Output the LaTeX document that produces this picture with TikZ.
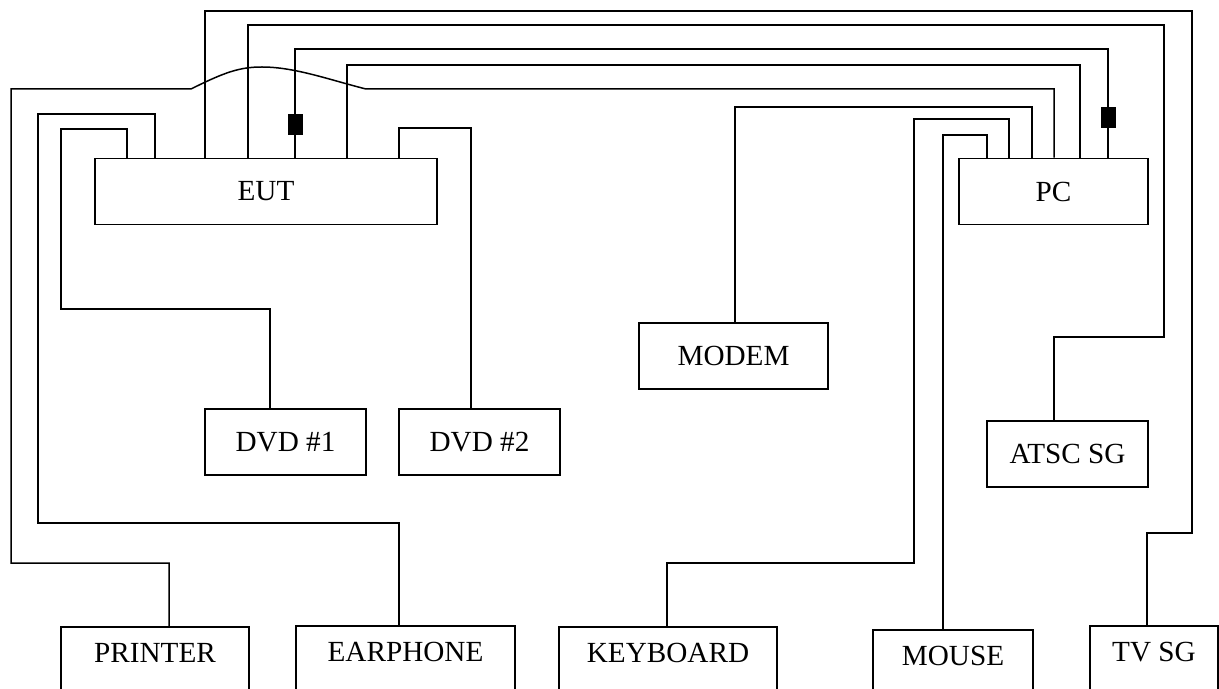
\documentclass[tikz,border=0pt]{standalone}
\usepackage{fontspec}
\setmainfont{Liberation Serif}
\begin{document}
\begin{tikzpicture}[x=0.5pt,y=-0.5pt,
        wire/.style={line width=0.75pt},
        unit/.style={draw, line width=0.75pt, inner sep=0pt, minimum height=33pt, font=\fontsize{14.6}{17}\selectfont},
        floorunit/.style={unit, anchor=north, minimum height=0pt, text height=18pt, text depth=19pt},
        ferrite/.style={fill=black, inner sep=0pt, minimum width=7.5pt, minimum height=10.5pt}]
        \useasboundingbox (0,0) rectangle (1219,689);
        \clip (0,0) rectangle (1219,689);
        % equipment
        \node[unit, minimum width=171pt] (eut) at (266,191.5) {EUT};
        \node[unit, minimum width=94.5pt] (pc) at (1053.5,191.5) {PC};
        \node[unit, minimum width=80.5pt] (dvda) at (285.5,442) {DVD \#1};
        \node[unit, minimum width=80.5pt] (dvdb) at (479.5,442) {DVD \#2};
        \node[unit, minimum width=94.5pt] (modem) at (733.5,356) {MODEM};
        \node[unit, minimum width=80.5pt] (atsc) at (1067.5,454) {ATSC SG};
        \node[floorunit, minimum width=94pt] (printer) at (155,626) {PRINTER};
        \node[floorunit, minimum width=109.5pt] (earphone) at (405.5,625) {EARPHONE};
        \node[floorunit, minimum width=109pt] (keyboard) at (668,626) {KEYBOARD};
        \node[floorunit, minimum width=80pt] (mouse) at (953,629) {MOUSE};
        \node[floorunit, minimum width=64pt] (tvsg) at (1154,625) {TV SG};
        % cables from the EUT
        \draw[wire] (eut.north -| 205,0) |- (1192,11) |- (1147,533) -- (tvsg.north -| 1147,0);
        \draw[wire] (eut.north -| 248,0) |- (1164,25) |- (1054,337) -- (atsc.north -| 1054,0);
        \draw[wire] (eut.north -| 295,0) |- (1108,49) -- (pc.north -| 1108,0);
        \draw[wire] (eut.north -| 347,0) |- (1080,65) -- (pc.north -| 1080,0);
        \draw[wire] (eut.north -| 155,0) |- (38,114) |- (399,523) -- (earphone.north -| 399,0);
        \draw[wire] (eut.north -| 127,0) |- (61,129) |- (270,309) -- (dvda.north -| 270,0);
        \draw[wire, line width=1pt] (eut.north -| 399,0) |- (471,128) -- (dvdb.north -| 471,0);
        % cables from the PC
        \draw[wire] (printer.north -| 169,0) |- (11,563) |- (191,89)
            .. controls (225,72) and (240,67) .. (262,67)
            .. controls (295,67) and (330,80) .. (366,89) -| (pc.north -| 1054,0);
        \draw[wire] (pc.north -| 1032,0) |- (735,107) -- (modem.north -| 735,0);
        \draw[wire] (pc.north -| 1009,0) |- (914,119) |- (667,563) -- (keyboard.north -| 667,0);
        \draw[wire] (pc.north -| 987,0) |- (943,135) -- (mouse.north -| 943,0);
        % ferrite cores
        \node[ferrite] (fea) at (295,124.5) {};
        \node[ferrite] (feb) at (1108,117.5) {};
    \end{tikzpicture}
\end{document}
